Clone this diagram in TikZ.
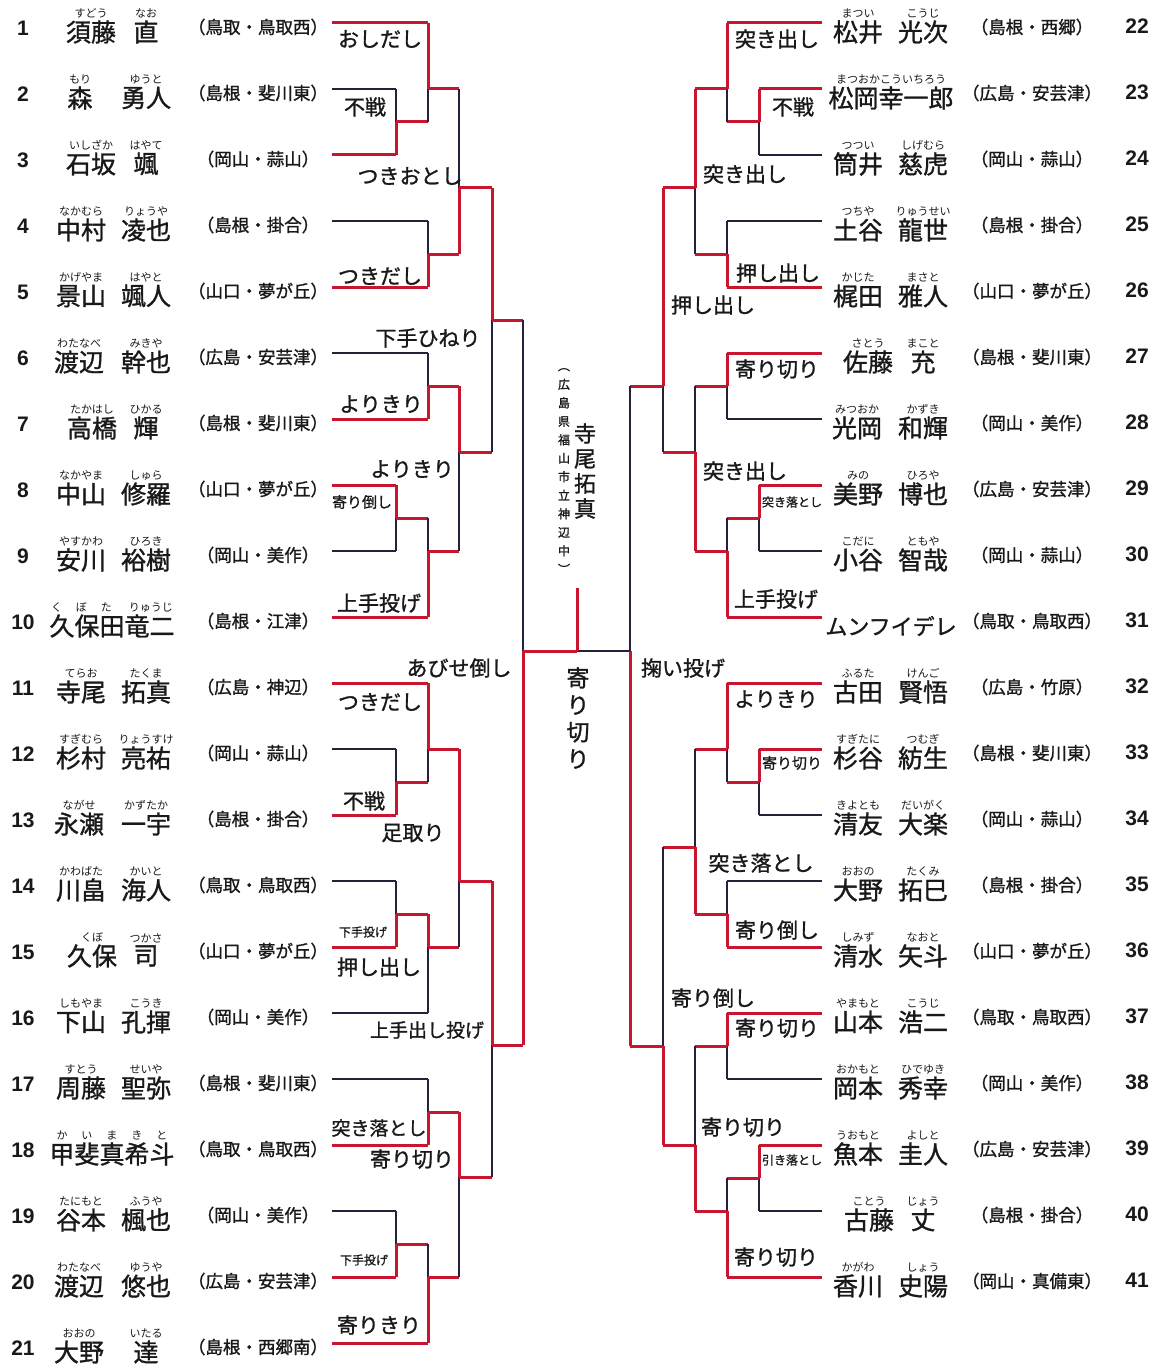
\documentclass[tikz,border=0pt]{standalone}
\usepackage{fontspec}
\setmainfont{Noto Sans CJK JP}[AutoFakeBold=1.2]
\newfontfamily\numfont{Liberation Sans}
\usetikzlibrary{positioning}

\definecolor{wred}{RGB}{200,22,48}
\definecolor{wdark}{RGB}{38,32,58}
\definecolor{ink}{RGB}{25,25,25}

\tikzset{
  win/.style={draw=wred, line width=3pt},
  lose/.style={draw=wdark, line width=1.8pt},
  num/.style={inner sep=0pt, text=ink, font=\numfont\bfseries\fontsize{21}{21}\selectfont},
  nm/.style={inner sep=0pt, text=ink, font=\bfseries\fontsize{25}{25}\selectfont},
  rb/.style={inner sep=0pt, text=ink, font=\fontsize{11}{11}\selectfont},
  aff/.style={inner sep=0pt, text=ink, font=\bfseries\fontsize{17.5}{17.5}\selectfont},
  kbig/.style={inner sep=0pt, text=ink, font=\bfseries\fontsize{21}{21}\selectfont},
  kmid/.style={inner sep=0pt, text=ink, font=\bfseries\fontsize{19}{19}\selectfont},
  ksmall/.style={inner sep=0pt, text=ink, font=\bfseries\fontsize{15}{15}\selectfont},
  ktiny/.style={inner sep=0pt, text=ink, font=\bfseries\fontsize{12}{12}\selectfont},
}

% left player: number, family, ruby, given, ruby, school, line length, style, family x
\newcommand\lplayer[9]{%
  \pgfmathsetmacro\py{23+66*(#1-1)}
  \node[num] (n#1) at (23,\py+5) {#1};
  \node[nm] (f#1) at (#9,\py+9) {#2};
  \node[rb, above=2pt of f#1] (rf#1) {#3};
  \node[nm] (g#1) at (146,\py+9) {#4};
  \node[rb, above=2pt of g#1] (rg#1) {#5};
  \node[aff] (a#1) at (258,\py+4) {#6};
  \coordinate (p#1) at (332,\py);
  \draw[#8] (p#1) -- ++(#7,0);
}
% left player, name in one piece
\newcommand\lfull[6]{%
  \pgfmathsetmacro\py{23+66*(#1-1)}
  \node[num] (n#1) at (23,\py+5) {#1};
  \node[nm] (f#1) at (112,\py+9) {#2};
  \node[rb, above=2pt of f#1] (rf#1) {#3};
  \node[aff] (a#1) at (258,\py+4) {#4};
  \coordinate (p#1) at (332,\py);
  \draw[#6] (p#1) -- ++(#5,0);
}
% right player
\newcommand\rplayer[9]{%
  \pgfmathsetmacro\py{23+66*(#1-22)}
  \node[num] (n#1) at (1137,\py+3) {#1};
  \node[nm] (f#1) at (#9,\py+9) {#2};
  \node[rb, above=2pt of f#1] (rf#1) {#3};
  \node[nm] (g#1) at (923,\py+9) {#4};
  \node[rb, above=2pt of g#1] (rg#1) {#5};
  \node[aff] (a#1) at (1032,\py+4) {#6};
  \coordinate (p#1) at (822,\py);
  \draw[#8] (p#1) -- ++(#7,0);
}
\newcommand\rfull[6]{%
  \pgfmathsetmacro\py{23+66*(#1-22)}
  \node[num] (n#1) at (1137,\py+3) {#1};
  \node[nm] (f#1) at (891,\py+9) {#2};
  \node[rb, above=2pt of f#1] (rf#1) {#3};
  \node[aff] (a#1) at (1032,\py+4) {#4};
  \coordinate (p#1) at (822,\py);
  \draw[#6] (p#1) -- ++(#5,0);
}
% one bout: column x, top y, junction y, bottom y, winner (t/b), next column x
\newcommand\bout[6]{%
  \ifx t#5
    \draw[lose] (#1,#3) -- (#1,#4);
    \draw[win] (#1,#2) -- (#1,#3);
  \else
    \draw[lose] (#1,#2) -- (#1,#3);
    \draw[win] (#1,#3) -- (#1,#4);
  \fi
  \draw[win] (#1,#3) -- (#6,#3);
}
\newcommand\rbgap{\hspace{14pt}}

\begin{document}
\begin{tikzpicture}[x=1pt, y=-1pt]
    \useasboundingbox[fill=white] (0,0) rectangle (1163,1364);

    % Left block: players 1-21
    \lplayer{1}{須藤}{すどう}{直}{なお}{（鳥取・鳥取西）}{96}{win}{91}
    \lplayer{2}{森}{もり}{勇人}{ゆうと}{（島根・斐川東）}{64}{lose}{80}
    \lplayer{3}{石坂}{いしざか}{颯}{はやて}{（岡山・蒜山）}{64}{win}{91}
    \lplayer{4}{中村}{なかむら}{凌也}{りょうや}{（島根・掛合）}{96}{lose}{81}
    \lplayer{5}{景山}{かげやま}{颯人}{はやと}{（山口・夢が丘）}{96}{win}{81}
    \lplayer{6}{渡辺}{わたなべ}{幹也}{みきや}{（広島・安芸津）}{96}{lose}{79}
    \lplayer{7}{高橋}{たかはし}{輝}{ひかる}{（島根・斐川東）}{96}{win}{92}
    \lplayer{8}{中山}{なかやま}{修羅}{しゅら}{（山口・夢が丘）}{64}{win}{81}
    \lplayer{9}{安川}{やすかわ}{裕樹}{ひろき}{（岡山・美作）}{64}{lose}{81}
    \lfull{10}{久保田竜二}{く\rbgap ぼ\rbgap た\hspace{17pt}りゅうじ}{（島根・江津）}{96}{win}
    \lplayer{11}{寺尾}{てらお}{拓真}{たくま}{（広島・神辺）}{96}{win}{81}
    \lplayer{12}{杉村}{すぎむら}{亮祐}{りょうすけ}{（岡山・蒜山）}{64}{lose}{81}
    \lplayer{13}{永瀬}{ながせ}{一宇}{かずたか}{（島根・掛合）}{64}{win}{79}
    \lplayer{14}{川畠}{かわばた}{海人}{かいと}{（鳥取・鳥取西）}{64}{lose}{81}
    \lplayer{15}{久保}{くぼ}{司}{つかさ}{（山口・夢が丘）}{64}{win}{92}
    \lplayer{16}{下山}{しもやま}{孔揮}{こうき}{（岡山・美作）}{96}{lose}{81}
    \lplayer{17}{周藤}{すとう}{聖弥}{せいや}{（島根・斐川東）}{96}{lose}{81}
    \lfull{18}{甲斐真希斗}{か\rbgap い\rbgap ま\rbgap き\rbgap と}{（鳥取・鳥取西）}{96}{win}
    \lplayer{19}{谷本}{たにもと}{楓也}{ふうや}{（岡山・美作）}{64}{lose}{81}
    \lplayer{20}{渡辺}{わたなべ}{悠也}{ゆうや}{（広島・安芸津）}{64}{win}{79}
    \lplayer{21}{大野}{おおの}{達}{いたる}{（島根・西郷南）}{96}{win}{79}

    % Right block: players 22-41
    \rplayer{22}{松井}{まつい}{光次}{こうじ}{（島根・西郷）}{-95}{win}{858}
    \rfull{23}{松岡幸一郎}{まつおかこういちろう}{（広島・安芸津）}{-63}{win}
    \rplayer{24}{筒井}{つつい}{慈虎}{しげむら}{（岡山・蒜山）}{-63}{lose}{858}
    \rplayer{25}{土谷}{つちや}{龍世}{りゅうせい}{（島根・掛合）}{-95}{lose}{858}
    \rplayer{26}{梶田}{かじた}{雅人}{まさと}{（山口・夢が丘）}{-95}{win}{858}
    \rplayer{27}{佐藤}{さとう}{充}{まこと}{（島根・斐川東）}{-95}{win}{868}
    \rplayer{28}{光岡}{みつおか}{和輝}{かずき}{（岡山・美作）}{-95}{lose}{857}
    \rplayer{29}{美野}{みの}{博也}{ひろや}{（広島・安芸津）}{-63}{win}{858}
    \rplayer{30}{小谷}{こだに}{智哉}{ともや}{（岡山・蒜山）}{-63}{lose}{858}
    \rfull{31}{\fontsize{22}{22}\selectfont ムンフイデレ}{}{（鳥取・鳥取西）}{-95}{win}
    \rplayer{32}{古田}{ふるた}{賢悟}{けんご}{（広島・竹原）}{-95}{win}{858}
    \rplayer{33}{杉谷}{すぎたに}{紡生}{つむぎ}{（島根・斐川東）}{-63}{win}{858}
    \rplayer{34}{清友}{きよとも}{大楽}{だいがく}{（岡山・蒜山）}{-63}{lose}{858}
    \rplayer{35}{大野}{おおの}{拓巳}{たくみ}{（島根・掛合）}{-95}{lose}{858}
    \rplayer{36}{清水}{しみず}{矢斗}{なおと}{（山口・夢が丘）}{-95}{win}{858}
    \rplayer{37}{山本}{やまもと}{浩二}{こうじ}{（鳥取・鳥取西）}{-95}{win}{858}
    \rplayer{38}{岡本}{おかもと}{秀幸}{ひでゆき}{（岡山・美作）}{-95}{lose}{858}
    \rplayer{39}{魚本}{うおもと}{圭人}{よしと}{（広島・安芸津）}{-63}{win}{858}
    \rplayer{40}{古藤}{ことう}{丈}{じょう}{（島根・掛合）}{-63}{lose}{869}
    \rplayer{41}{香川}{かがわ}{史陽}{しょう}{（岡山・真備東）}{-95}{win}{858}

    % Left bracket
    \bout{396}{89}{122}{155}{b}{428}
    \bout{428}{23}{89}{122}{t}{459}
    \bout{428}{221}{254}{287}{b}{459}
    \bout{459}{89}{188}{254}{b}{492}
    \bout{428}{353}{386}{419}{b}{459}
    \bout{396}{485}{518}{551}{t}{428}
    \bout{428}{518}{551}{617}{b}{459}
    \bout{459}{386}{452}{551}{t}{492}
    \bout{492}{188}{320}{452}{t}{523}
    \bout{396}{749}{782}{815}{b}{428}
    \bout{428}{683}{749}{782}{t}{459}
    \bout{396}{881}{914}{947}{b}{428}
    \bout{428}{914}{947}{1013}{t}{459}
    \bout{459}{749}{881}{947}{t}{492}
    \bout{428}{1079}{1112}{1145}{b}{459}
    \bout{396}{1211}{1244}{1277}{b}{428}
    \bout{428}{1244}{1277}{1343}{b}{459}
    \bout{459}{1112}{1177}{1277}{t}{492}
    \bout{492}{881}{1045}{1177}{t}{523}
    \bout{523}{320}{651}{1045}{b}{523}

    % Right bracket
    \bout{759}{89}{122}{155}{t}{727}
    \bout{727}{23}{89}{122}{t}{695}
    \bout{727}{221}{254}{287}{b}{695}
    \bout{695}{89}{188}{254}{t}{663}
    \bout{727}{353}{386}{419}{t}{695}
    \bout{759}{485}{518}{551}{t}{727}
    \bout{727}{518}{551}{617}{b}{695}
    \bout{695}{386}{452}{551}{b}{663}
    \bout{663}{188}{386}{452}{t}{630}
    \bout{759}{749}{782}{815}{t}{727}
    \bout{727}{683}{749}{782}{t}{695}
    \bout{727}{881}{914}{947}{b}{695}
    \bout{695}{749}{847}{914}{b}{663}
    \bout{727}{1013}{1046}{1079}{t}{695}
    \bout{759}{1145}{1178}{1211}{t}{727}
    \bout{727}{1178}{1211}{1277}{b}{695}
    \bout{695}{1046}{1145}{1211}{b}{663}
    \bout{663}{847}{1046}{1145}{b}{630}
    \bout{630}{386}{651}{1046}{b}{630}

    % Final
    \coordinate (fl) at (523,651);
    \coordinate (fr) at (630,651);
    \coordinate (fm) at (577,651);
    \coordinate (top) at (577,588);
    \draw[lose] (fm) -- (fr);
    \draw[win] (fl) -- (fm);
    \draw[win] (fm) -- (top);

    % Champion
    \node[inner sep=0pt, text=ink, align=center, font=\bfseries\fontsize{22}{25}\selectfont] (champ) at (585,471) {寺\\尾\\拓\\真};
    \node[inner sep=0pt, text=ink, align=center, font=\bfseries\fontsize{12}{18.5}\selectfont] (champsch) at (564,471) {︵\\広\\島\\県\\福\\山\\市\\立\\神\\辺\\中\\︶};
    \node[inner sep=0pt, text=ink, align=center, font=\bfseries\fontsize{23}{27}\selectfont] (fk) at (578,718) {寄\\り\\切\\り};

    % Left kimarite
    \node[kbig] (k1) at (380,39) {おしだし};
    \node[kbig] (k2) at (365,107) {不戦};
    \node[kbig] (k3) at (410,176) {つきおとし};
    \node[kbig] (k4) at (380,276) {つきだし};
    \node[kbig] (k5) at (428,338) {下手ひねり};
    \node[kbig] (k6) at (381,404) {よりきり};
    \node[kbig] (k7) at (412,469) {よりきり};
    \node[ksmall] (k8) at (362,502) {寄り倒し};
    \node[kbig] (k9) at (379,603) {上手投げ};
    \node[kbig] (k10) at (459,668) {あびせ倒し};
    \node[kbig] (k11) at (380,702) {つきだし};
    \node[kbig] (k12) at (364,801) {不戦};
    \node[kbig] (k13) at (413,833) {足取り};
    \node[ktiny] (k14) at (363,932) {下手投げ};
    \node[kbig] (k15) at (379,967) {押し出し};
    \node[kmid] (k16) at (427,1030) {上手出し投げ};
    \node[kmid] (k17) at (379,1128) {突き落とし};
    \node[kbig] (k18) at (412,1159) {寄り切り};
    \node[ktiny] (k19) at (364,1260) {下手投げ};
    \node[kbig] (k20) at (379,1325) {寄りきり};

    % Right kimarite
    \node[kbig] (k21) at (777,39) {突き出し};
    \node[kbig] (k22) at (793,107) {不戦};
    \node[kbig] (k23) at (745,174) {突き出し};
    \node[kbig] (k24) at (778,273) {押し出し};
    \node[kbig] (k25) at (713,305) {押し出し};
    \node[kbig] (k26) at (777,369) {寄り切り};
    \node[kbig] (k27) at (745,471) {突き出し};
    \node[ktiny] (k28) at (792,502) {突き落とし};
    \node[kbig] (k29) at (776,599) {上手投げ};
    \node[kbig] (k30) at (683,668) {掬い投げ};
    \node[kbig] (k31) at (776,699) {よりきり};
    \node[ksmall] (k32) at (792,763) {寄り切り};
    \node[kbig] (k33) at (761,863) {突き落とし};
    \node[kbig] (k34) at (777,930) {寄り倒し};
    \node[kbig] (k35) at (713,998) {寄り倒し};
    \node[kbig] (k36) at (777,1028) {寄り切り};
    \node[kbig] (k37) at (743,1127) {寄り切り};
    \node[ktiny] (k38) at (792,1160) {引き落とし};
    \node[kbig] (k39) at (776,1257) {寄り切り};
\end{tikzpicture}
\end{document}
